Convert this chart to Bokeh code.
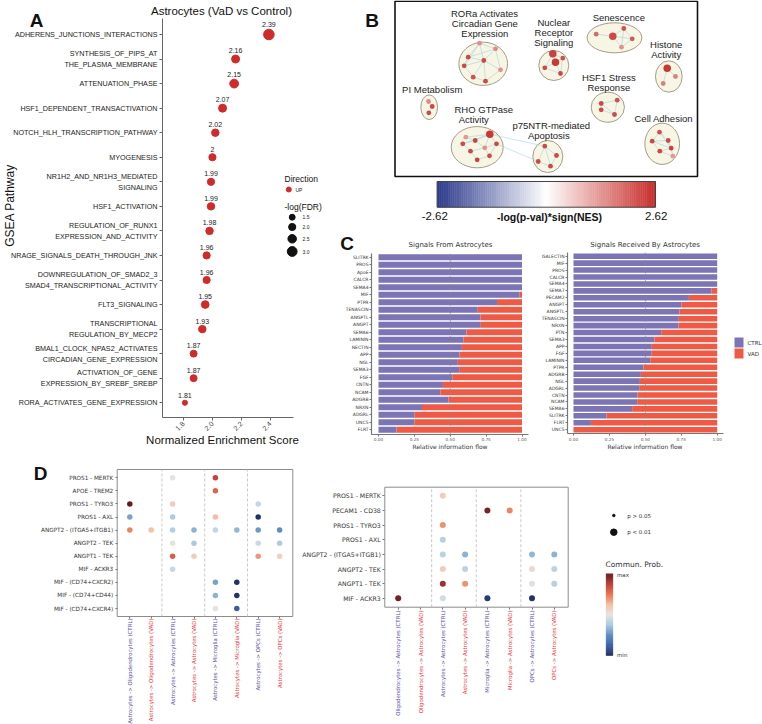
import numpy as np
from bokeh.plotting import figure
from bokeh.models import Range1d, FixedTicker, PrintfTickFormatter, ColumnDataSource
from bokeh.transform import linear_cmap
from bokeh.layouts import row, column
from bokeh.embed import file_html
from bokeh.resources import INLINE
from bokeh.core.properties import value

SANS = "Liberation Sans"
DV = "DejaVu Sans"

# ---------------- Panel A data ----------------
pathways = [
    "ADHERENS_JUNCTIONS_INTERACTIONS",
    "SYNTHESIS_OF_PIPS_AT\nTHE_PLASMA_MEMBRANE",
    "ATTENUATION_PHASE",
    "HSF1_DEPENDENT_TRANSACTIVATION",
    "NOTCH_HLH_TRANSCRIPTION_PATHWAY",
    "MYOGENESIS",
    "NR1H2_AND_NR1H3_MEDIATED\nSIGNALING",
    "HSF1_ACTIVATION",
    "REGULATION_OF_RUNX1\nEXPRESSION_AND_ACTIVITY",
    "NRAGE_SIGNALS_DEATH_THROUGH_JNK",
    "DOWNREGULATION_OF_SMAD2_3\nSMAD4_TRANSCRIPTIONAL_ACTIVITY",
    "FLT3_SIGNALING",
    "TRANSCRIPTIONAL\nREGULATION_BY_MECP2",
    "BMAL1_CLOCK_NPAS2_ACTIVATES\nCIRCADIAN_GENE_EXPRESSION",
    "ACTIVATION_OF_GENE\nEXPRESSION_BY_SREBF_SREBP",
    "RORA_ACTIVATES_GENE_EXPRESSION",
]
nes = [2.39, 2.16, 2.15, 2.07, 2.02, 2.00, 1.99, 1.99, 1.98, 1.96, 1.96, 1.95, 1.93, 1.87, 1.87, 1.81]
nes_text = ["2.39", "2.16", "2.15", "2.07", "2.02", "2", "1.99", "1.99", "1.98", "1.96",
            "1.96", "1.95", "1.93", "1.87", "1.87", "1.81"]
neg_log_fdr = [3.3, 2.3, 2.6, 2.3, 2.1, 2.0, 2.0, 2.1, 2.1, 2.0, 2.0, 2.2, 2.1, 1.9, 1.9, 1.2]
fdr_legend = [1.5, 2.0, 2.5, 3.0]
fdr_legend_text = ["1.5", "2.0", "2.5", "3.0"]
nes_ticks = [1.8, 2.0, 2.2, 2.4]

# ---------------- Panel B data (enrichment map, layout coordinates) ----------------
b_cluster_x = [482.7, 553.3, 614.0, 668.3, 428.7, 607.3, 476.7, 547.3, 661.7]
b_cluster_y = [63.3, 65.0, 37.3, 76.0, 106.7, 106.7, 146.7, 156.0, 143.3]
b_cluster_w = [48.7, 30.0, 54.7, 26.7, 16.7, 33.3, 52.0, 30.0, 34.7]
b_cluster_h = [43.3, 30.0, 30.0, 31.3, 24.7, 30.0, 41.3, 32.0, 41.3]
b_label_text = ["RORa Activates", "Circadian Gene", "Expression", "Nuclear", "Receptor",
                "Signaling", "Senescence", "Histone", "Activity", "PI Metabolism",
                "HSF1 Stress", "Response", "RHO GTPase", "Activity", "p75NTR-mediated",
                "Apoptosis", "Cell Adhesion"]
b_label_x = [484.3, 484.3, 484.3, 553.3, 553.3, 553.3, 618.3, 665.7, 665.7, 431.7,
             608.3, 608.3, 483.3, 473.3, 550.7, 548.3, 663.3]
b_label_y = [12.7, 22.7, 32.7, 22.3, 32.3, 42.3, 16.7, 44.3, 54.3, 89.3,
             76.7, 86.7, 109.0, 119.0, 124.7, 134.7, 118.3]
b_node_x = [479.0, 495.0, 467.7, 483.3, 463.7, 500.0, 472.7, 485.0,
            552.3, 562.3, 555.0, 544.3, 560.0,
            595.7, 612.3, 623.3, 631.7, 621.0,
            666.7, 675.0, 662.7,
            428.0, 431.7, 428.3,
            600.7, 616.7, 600.7, 614.0,
            489.3, 465.3, 474.7, 462.3, 496.0, 484.3, 470.0, 489.0, 476.7,
            544.3, 556.0, 537.7, 550.0,
            659.0, 651.7, 667.7, 670.7, 659.3, 672.3]
b_node_y = [42.7, 48.3, 56.7, 60.0, 65.3, 69.3, 76.7, 80.7,
            53.3, 57.7, 61.7, 67.3, 73.0,
            33.7, 35.7, 28.0, 38.3, 46.7,
            67.7, 76.0, 83.0,
            101.0, 106.0, 112.3,
            103.0, 99.7, 109.3, 114.0,
            133.7, 136.7, 140.0, 143.3, 143.3, 147.3, 150.7, 155.3, 159.3,
            145.7, 155.0, 161.0, 165.7,
            131.7, 140.7, 140.0, 147.7, 150.7, 155.7]
b_node_score = [1.4, 1.5, 2.3, 2.3, 2.3, 1.4, 2.2, 2.3,
                2.4, 2.2, 2.5, 2.3, 2.3,
                1.9, 2.3, 2.2, 2.1, 1.4,
                2.5, 1.6, 1.6,
                1.5, 2.3, 2.3,
                2.3, 2.2, 2.3, 2.3,
                2.5, 1.3, 2.4, 2.3, 2.3, 1.4, 2.3, 2.3, 2.4,
                2.3, 2.3, 2.3, 2.3,
                2.2, 2.3, 2.3, 2.4, 2.3, 1.3]
b_node_big = [0, 0, 0, 0, 0, 0, 0, 0,
              1, 0, 1, 0, 0,
              0, 1, 0, 0, 0,
              1, 0, 0,
              0, 0, 0,
              0, 0, 0, 0,
              1, 0, 0, 0, 0, 0, 0, 0, 0,
              0, 0, 0, 0,
              0, 0, 0, 0, 0, 0]
b_edges = [(0, 1), (0, 2), (0, 3), (1, 3), (1, 5), (2, 3), (2, 4), (3, 4), (3, 5), (3, 6), (3, 7),
           (4, 6), (5, 7), (6, 7), (0, 4), (1, 2),
           (8, 9), (8, 10), (8, 11), (9, 10), (10, 11), (10, 12), (9, 12), (11, 12),
           (13, 14), (14, 15), (14, 16), (15, 16), (14, 17), (16, 17), (15, 17),
           (18, 19), (18, 20), (21, 22), (22, 23),
           (24, 25), (24, 26), (25, 27), (26, 27), (24, 27),
           (28, 29), (28, 30), (28, 32), (28, 33), (29, 30), (30, 31), (30, 33), (31, 34), (32, 33),
           (33, 34), (33, 35), (34, 36), (35, 36), (32, 35), (28, 31),
           (37, 38), (37, 39), (38, 40), (39, 40), (37, 40),
           (41, 42), (41, 43), (42, 43), (43, 44), (42, 45), (44, 45), (44, 46), (45, 46), (41, 44), (42, 44),
           (28, 37), (32, 39)]
b_scale_low, b_scale_high = -2.62, 2.62

# ---------------- Panel C data ----------------
from_pathways = ["SLITRK", "PROS", "ApoE", "CALCR", "SEMA4", "MIF", "PTPR", "TENASCIN", "ANGPTL",
                 "ANGPT", "SEMA6", "LAMININ", "NECTIN", "APP", "NGL", "SEMA3", "FGF", "CNTN",
                 "NCAM", "ADGRB", "NRXN", "ADGRL", "UNC5", "FLRT"]
from_ctrl = [1.0, 1.0, 1.0, 1.0, 1.0, 0.984, 0.826, 0.692, 0.711, 0.713, 0.613, 0.593, 0.581,
             0.565, 0.553, 0.562, 0.514, 0.449, 0.431, 0.488, 0.303, 0.252, 0.250, 0.126]
recv_pathways = ["GALECTIN", "MIF", "PROS", "CALCR", "SEMA4", "SEMA7", "PECAM2", "ANGPT", "ANGPTL",
                 "TENASCIN", "NRXN", "PTN", "SEMA3", "APP", "FGF", "LAMININ", "PTPR", "ADGRB",
                 "NGL", "ADGRL", "CNTN", "NCAM", "SEMA6", "SLITRK", "FLRT", "UNC5"]
recv_ctrl = [1.0, 1.0, 1.0, 1.0, 1.0, 0.961, 0.803, 0.752, 0.738, 0.733, 0.731, 0.610, 0.564,
             0.545, 0.541, 0.534, 0.487, 0.469, 0.462, 0.457, 0.445, 0.443, 0.408, 0.230,
             0.121, 0.0]
flow_ticks = [0.0, 0.25, 0.5, 0.75, 1.0]
group_names = ["CTRL", "VAD"]

# ---------------- Panel D data ----------------
dl_rows = ["PROS1 - MERTK", "APOE - TREM2", "PROS1 - TYRO3", "PROS1 - AXL",
           "ANGPT2 - (ITGA5+ITGB1)", "ANGPT2 - TEK", "ANGPT1 - TEK", "MIF - ACKR3",
           "MIF - (CD74+CXCR2)", "MIF - (CD74+CD44)", "MIF - (CD74+CXCR4)"]
dl_cols = ["Astrocytes -> Oligodendrocytes (CTRL)", "Astrocytes -> Oligodendrocytes (VAD)",
           "Astrocytes -> Astrocytes (CTRL)", "Astrocytes -> Astrocytes (VAD)",
           "Astrocytes -> Microglia (CTRL)", "Astrocytes -> Microglia (VAD)",
           "Astrocytes -> OPCs (CTRL)", "Astrocytes -> OPCs (VAD)"]
dl_pt_row = (["PROS1 - MERTK"] * 2 + ["APOE - TREM2"] + ["PROS1 - TYRO3"] * 3 + ["PROS1 - AXL"] * 4
             + ["ANGPT2 - (ITGA5+ITGB1)"] * 8 + ["ANGPT2 - TEK"] * 4 + ["ANGPT1 - TEK"] * 4
             + ["MIF - ACKR3"] + ["MIF - (CD74+CXCR2)"] * 2 + ["MIF - (CD74+CD44)"] * 2
             + ["MIF - (CD74+CXCR4)"] * 2)
dl_pt_col = [3, 5, 5, 1, 3, 7, 1, 3, 5, 7, 1, 2, 3, 4, 5, 6, 7, 8, 3, 4, 7, 8, 3, 4, 7, 8, 3,
             5, 6, 5, 6, 5, 6]
dl_pt_prob = [0.50, 0.86, 0.78, 1.00, 0.58, 0.44, 0.30, 0.39, 0.63, 0.02, 0.72, 0.62, 0.40,
              0.33, 0.43, 0.34, 0.28, 0.25, 0.50, 0.38, 0.45, 0.39, 0.80, 0.58, 0.69, 0.57,
              0.44, 0.30, 0.02, 0.33, 0.02, 0.50, 0.12]

dr_rows = ["PROS1 - MERTK", "PECAM1 - CD38", "PROS1 - TYRO3", "PROS1 - AXL",
           "ANGPT2 - (ITGA5+ITGB1)", "ANGPT2 - TEK", "ANGPT1 - TEK", "MIF - ACKR3"]
dr_cols = ["Oligodendrocytes -> Astrocytes (CTRL)", "Oligodendrocytes -> Astrocytes (VAD)",
           "Astrocytes -> Astrocytes (CTRL)", "Astrocytes -> Astrocytes (VAD)",
           "Microglia -> Astrocytes (CTRL)", "Microglia -> Astrocytes (VAD)",
           "OPCs -> Astrocytes (CTRL)", "OPCs -> Astrocytes (VAD)"]
dr_pt_row = (["PROS1 - MERTK"] + ["PECAM1 - CD38"] * 2 + ["PROS1 - TYRO3"] + ["PROS1 - AXL"]
             + ["ANGPT2 - (ITGA5+ITGB1)"] * 4 + ["ANGPT2 - TEK"] * 4 + ["ANGPT1 - TEK"] * 4
             + ["MIF - ACKR3"] * 4)
dr_pt_col = [3, 5, 6, 3, 3, 3, 4, 7, 8, 3, 4, 7, 8, 3, 4, 7, 8, 1, 3, 5, 7]
dr_pt_prob = [0.58, 0.97, 0.72, 0.70, 0.41, 0.42, 0.33, 0.34, 0.33, 0.58, 0.42, 0.53, 0.42,
              0.92, 0.70, 0.49, 0.41, 0.98, 0.46, 0.04, 0.02]
pval_legend_text = ["p > 0.05", "p < 0.01"]

# ---------------- colours ----------------
RED = "#d02b2b"
CTRL_C = "#7b74b5"
VAD_C = "#ee5a45"
PURPLE_LAB = "#5e4fa2"
RED_LAB = "#e8373e"


def hex2rgb(h):
    h = h.lstrip("#")
    return [int(h[i:i + 2], 16) for i in (0, 2, 4)]


def make_palette(anchors, n):
    out = []
    for i in range(n):
        t = i / (n - 1)
        for (p0, c0), (p1, c1) in zip(anchors[:-1], anchors[1:]):
            if p0 <= t <= p1:
                f = (t - p0) / (p1 - p0)
                rgb = [int(round(a + (b - a) * f)) for a, b in zip(hex2rgb(c0), hex2rgb(c1))]
                out.append("#%02x%02x%02x" % tuple(rgb))
                break
    return out


PAL_B = make_palette([(0, "#2d3b8c"), (0.5, "#ffffff"), (1, "#c8302c")], 256)
PAL_D = make_palette([(0, "#1f2a5c"), (0.125, "#3a62a8"), (0.25, "#5b8cc0"), (0.375, "#a8c8e0"),
                      (0.5, "#e4e4e4"), (0.625, "#f7bfa4"), (0.75, "#e8744f"),
                      (0.875, "#c43a35"), (1, "#6b1a1f")], 256)


# ---------------- layout helpers ----------------
class Lin:
    """linear map between data values and page pixels (page y grows downward)."""

    def __init__(self, v_ref, p_ref, ppu):
        self.v_ref, self.p_ref, self.ppu = v_ref, p_ref, ppu

    def v(self, page):
        return self.v_ref + (page - self.p_ref) / self.ppu


def make_fig(box, mx=None, my=None, axes=True):
    x0, x1, y0, y1 = box
    xr = Range1d(mx.v(x0), mx.v(x1)) if mx else Range1d(x0, x1)
    yr = Range1d(my.v(y1), my.v(y0)) if my else Range1d(y1, y0)
    kw = {} if axes else dict(x_axis_type=None, y_axis_type=None)
    p = figure(width=x1 - x0, height=y1 - y0, x_range=xr, y_range=yr, min_border=0,
               output_backend="svg", toolbar_location=None, **kw)
    p.extra_x_ranges = {"px": Range1d(x0, x1)}
    p.extra_y_ranges = {"py": Range1d(y1, y0)}
    p.outline_line_color = None
    p.grid.visible = False
    p.background_fill_color = "white"
    p.border_fill_color = "white"
    return p


def ptext(p, x, y, text, size, font=SANS, bold=False, align="center", baseline="middle",
          angle=0.0, color="#111111"):
    p.text(x=x, y=y, text=text, x_range_name="px", y_range_name="py", text_font=value(font),
           text_font_size=f"{size}px", text_font_style="bold" if bold else "normal",
           text_align=align, text_baseline=baseline, angle=angle, text_color=color)


def style_axis(ax, loc, bounds, font, size, color, tick_out=3, line_color="#666666",
               line_width=1.0, standoff=2):
    ax.fixed_location = loc
    ax.bounds = bounds
    ax.minor_tick_line_color = None
    ax.major_tick_in = 0
    ax.major_tick_out = tick_out
    ax.axis_line_color = line_color
    ax.axis_line_width = line_width
    ax.major_tick_line_color = line_color if line_color else "#777777"
    ax.major_label_text_font = font
    ax.major_label_text_font_size = f"{size}px"
    ax.major_label_text_color = color
    ax.major_label_standoff = standoff


# ================= Panel A =================
n_path = len(pathways)
path_pos = [n_path - 1 - i for i in range(n_path)]
mxA = Lin(1.655, 162, 144.75)
myA = Lin(n_path - 1, 34, -24.55)
pA = make_fig((0, 330, 0, 456), mxA, myA)
a_size = [2.6 * v + 2 for v in neg_log_fdr]
srcA = ColumnDataSource(dict(x=nes, y=path_pos, s=a_size, t=nes_text,
                             off=[-(s / 2 + 1.8) for s in a_size]))
pA.scatter("x", "y", size="s", source=srcA, fill_color=RED, line_color=RED)
pA.text("x", "y", text="t", y_offset="off", source=srcA, text_align="center",
        text_baseline="bottom", text_font=value(SANS), text_font_size="7px", text_color="#222222")
xa = pA.xaxis[0]
xa.ticker = FixedTicker(ticks=nes_ticks)
xa.formatter = PrintfTickFormatter(format="%.1f")
xa.major_label_orientation = np.pi / 4
style_axis(xa, myA.v(417), (mxA.v(162), mxA.v(293)), SANS, 7, "#444444")
ya = pA.yaxis[0]
ya.ticker = FixedTicker(ticks=path_pos)
ya.major_label_overrides = {pos: name for pos, name in zip(path_pos, pathways)}
style_axis(ya, mxA.v(162), (myA.v(417), myA.v(18)), SANS, 7.2, "#222222")
ptext(pA, [36], [19.5], ["A"], 19, bold=True, baseline="alphabetic")
ptext(pA, [221], [10], ["Astrocytes (VaD vs Control)"], 11.5)
ptext(pA, [9], [205], ["GSEA Pathway"], 12, angle=np.pi / 2)
ptext(pA, [222], [439], ["Normalized Enrichment Score"], 11.5)
# legend
ptext(pA, [284, 284], [178.7, 206.7], ["Direction", "-log(FDR)"], 8.5, align="left")
pA.scatter(x=[288.3], y=[189], size=5, fill_color=RED, line_color=RED,
           x_range_name="px", y_range_name="py")
ptext(pA, [295], [189], ["UP"], 5, align="left", color="#222222")
pA.scatter(x=[291.7] * 4, y=[216.7, 226.5, 238.3, 251.0], size=[2.6 * v + 2 for v in fdr_legend],
           fill_color="#111111", line_color="#111111", x_range_name="px", y_range_name="py")
ptext(pA, [302] * 4, [216.7, 226.5, 238.3, 251.0], fdr_legend_text, 5, align="left",
      color="#222222")

# ================= Panel B =================
pB = make_fig((330, 762, 0, 228), axes=False)
pB.quad(left=[394.5], right=[697], top=[0.8], bottom=[176], fill_color=None,
        line_color="#111111", line_width=1.6)
pB.ellipse(x=b_cluster_x, y=b_cluster_y, width=b_cluster_w, height=b_cluster_h,
           fill_color="#f7f5e3", line_color="#a69b86", line_width=1)
pB.segment(x0=[b_node_x[a] for a, b in b_edges], y0=[b_node_y[a] for a, b in b_edges],
           x1=[b_node_x[b] for a, b in b_edges], y1=[b_node_y[b] for a, b in b_edges],
           line_color="#9fcfe0", line_width=0.6, line_alpha=0.9)
srcB = ColumnDataSource(dict(x=b_node_x, y=b_node_y, sc=b_node_score,
                             s=[7.5 if b else 4.8 for b in b_node_big]))
pB.scatter("x", "y", size="s", source=srcB, line_color=None,
           fill_color=linear_cmap("sc", PAL_B, b_scale_low, b_scale_high))
pB.text(x=b_label_x, y=b_label_y, text=b_label_text, text_font=value(SANS),
        text_font_size="9.5px", text_align="center", text_baseline="middle", text_color="#222222")
ptext(pB, [371.5], [19.5], ["B"], 19, bold=True, baseline="alphabetic")
edges = np.linspace(436.7, 655.0, 101)
cb_vals = np.linspace(b_scale_low, b_scale_high, 100)
cb_cols = [PAL_B[int(round((v - b_scale_low) / (b_scale_high - b_scale_low) * 255))] for v in cb_vals]
pB.quad(left=edges[:-1], right=edges[1:], top=181, bottom=206.7, fill_color=cb_cols,
        line_color=cb_cols, line_width=0.5)
pB.quad(left=[436.7], right=[655], top=[181], bottom=[206.7], fill_color=None,
        line_color="#444444", line_width=1)
ptext(pB, [434.3, 655.7], [215, 215], ["%.2f" % b_scale_low, "%.2f" % b_scale_high], 11.5)
ptext(pB, [549], [216], ["-log(p-val)*sign(NES)"], 10.5, bold=True)


# ================= Panel C =================
def flow_fig(box, names, ctrl, x0p, x1p, top_p, step, axis_x, axis_right, frame_top, frame_bot,
             title, title_x, label_x):
    n = len(names)
    pos = [n - 1 - i for i in range(n)]
    mx = Lin(0.0, x0p, x1p - x0p)
    my = Lin(n - 1, top_p, -step)
    p = make_fig(box, mx, my)
    p.hbar(y=pos, left=0, right=ctrl, height=0.8, fill_color=CTRL_C, line_color=None)
    p.hbar(y=pos, left=ctrl, right=1.0, height=0.8, fill_color=VAD_C, line_color=None)
    p.segment(x0=[0.5], x1=[0.5], y0=[my.v(frame_bot)], y1=[my.v(frame_top)],
              line_color="#8a8a8a", line_width=0.7, line_dash="2 2")
    xa = p.xaxis[0]
    xa.ticker = FixedTicker(ticks=flow_ticks)
    xa.formatter = PrintfTickFormatter(format="%.2f")
    style_axis(xa, my.v(frame_bot), (mx.v(axis_x), mx.v(axis_right)), DV, 4.2, "#555555",
               tick_out=2, line_color="#777777", line_width=1.2, standoff=1)
    ya = p.yaxis[0]
    ya.ticker = FixedTicker(ticks=pos)
    ya.major_label_overrides = {q: nm for q, nm in zip(pos, names)}
    style_axis(ya, mx.v(axis_x), (my.v(frame_bot), my.v(frame_top)), DV, 4.5, "#333333",
               tick_out=2, line_color="#777777", line_width=1.2, standoff=1)
    ptext(p, [title_x], [244.5], [title], 7, font=DV, color="#333333")
    ptext(p, [label_x], [446], ["Relative information flow"], 6, font=DV, color="#333333")
    return p


pCL = flow_fig((330, 531, 228, 456), from_pathways, from_ctrl, 378, 521.5, 256.7, 7.5,
               371, 528, 253, 433.5, "Signals From Astrocytes", 450, 449.5)
ptext(pCL, [346.5], [243], ["C"], 19, bold=True, baseline="alphabetic")
pCR = flow_fig((531, 762, 228, 456), recv_pathways, recv_ctrl, 573, 716.7, 255.7, 6.94,
               567, 722.7, 252, 433.3, "Signals Received By Astrocytes", 644.6, 644.5)
pCR.quad(left=[734, 734], right=[743, 743], top=[337, 348], bottom=[347, 358],
         fill_color=[CTRL_C, VAD_C], line_color=None, x_range_name="px", y_range_name="py")
ptext(pCR, [747, 747], [342, 353], group_names, 5.5, font=DV, align="left", color="#333333")


# ================= Panel D =================
def dot_fig(box, rows, cols, pt_row, pt_col, pt_prob, col0, col_step, row0, row_step,
            frame, row_font, dot_size, lab_y):
    fl, fr, ft, fb = frame
    nr, nc = len(rows), len(cols)
    rpos = {r: nr - 1 - i for i, r in enumerate(rows)}
    mx = Lin(0.0, col0, col_step)
    my = Lin(nr - 1, row0, -row_step)
    p = make_fig(box, mx, my)
    p.quad(left=[mx.v(fl)], right=[mx.v(fr)], top=[my.v(ft)], bottom=[my.v(fb)],
           fill_color=None, line_color="#8c8c8c", line_width=1)
    seps = [k + 0.5 for k in range(1, nc - 1, 2)]
    p.segment(x0=seps, x1=seps, y0=[my.v(fb)] * len(seps), y1=[my.v(ft)] * len(seps),
              line_color="#bdbdbd", line_width=0.8, line_dash="3 2")
    src = ColumnDataSource(dict(x=[c - 1 for c in pt_col], y=[rpos[r] for r in pt_row],
                                v=pt_prob))
    p.scatter("x", "y", size=dot_size, source=src, line_color=None,
              fill_color=linear_cmap("v", PAL_D, 0, 1))
    ya = p.yaxis[0]
    ya.ticker = FixedTicker(ticks=list(range(nr)))
    ya.major_label_overrides = {rpos[r]: r for r in rows}
    style_axis(ya, mx.v(fl), (my.v(fb), my.v(ft)), DV, row_font, "#333333", tick_out=2,
               line_color=None, standoff=2)
    ya.major_tick_line_color = "#777777"
    xa = p.xaxis[0]
    xa.ticker = FixedTicker(ticks=list(range(nc)))
    style_axis(xa, my.v(fb), (mx.v(fl), mx.v(fr)), DV, 2, "#333333", tick_out=2,
               line_color=None, standoff=1)
    xa.major_tick_line_color = "#777777"
    xa.major_label_text_alpha = 0
    lab_cols = [PURPLE_LAB if "(CTRL)" in c else RED_LAB for c in cols]
    p.text(x=list(range(nc)), y=[lab_y] * nc, text=cols, y_range_name="py", angle=np.pi / 2,
           text_align="right", text_baseline="middle", text_font=value(DV),
           text_font_size="5.4px", text_color=lab_cols)
    return p


pDL = dot_fig((0, 300, 456, 724), dl_rows, dl_cols, dl_pt_row, dl_pt_col, dl_pt_prob,
              129.3, 21.4, 477.3, 13.07, (116.7, 292.3, 469, 616), 5.7, 5.5, 618)
ptext(pDL, [40], [473], ["D"], 19, bold=True, baseline="alphabetic")
pDR = dot_fig((300, 596, 456, 724), dr_rows, dr_cols, dr_pt_row, dr_pt_col, dr_pt_prob,
              397.7, 22.3, 495.3, 14.65, (384.3, 567.7, 486.7, 606.7), 6.2, 6.0, 610)

# D legend
pDG = make_fig((596, 762, 456, 724), axes=False)
pDG.scatter(x=[613.3, 613.3], y=[515, 531.7], size=[2.5, 6.5], fill_color="#111111",
            line_color="#111111")
ptext(pDG, [626.7, 626.7], [515, 531.7], pval_legend_text, 5.5, font=DV, align="left",
      color="#333333")
ptext(pDG, [605], [564.3], ["Commun. Prob."], 7.5, font=DV, align="left", color="#333333")
ed = np.linspace(655.0, 573.3, 101)
dvals = np.linspace(0, 1, 100)
dcols = [PAL_D[int(round(v * 255))] for v in dvals]
pDG.quad(left=605.7, right=612.3, bottom=ed[:-1], top=ed[1:], fill_color=dcols,
         line_color=dcols, line_width=0.5)
ptext(pDG, [616.5, 616.5], [574.5, 654], ["max", "min"], 5.5, font=DV, align="left",
      color="#333333")

layout = column(row(pA, column(pB, row(pCL, pCR))), row(pDL, pDR, pDG))

open("out.html", "w").write(file_html(layout, INLINE))
